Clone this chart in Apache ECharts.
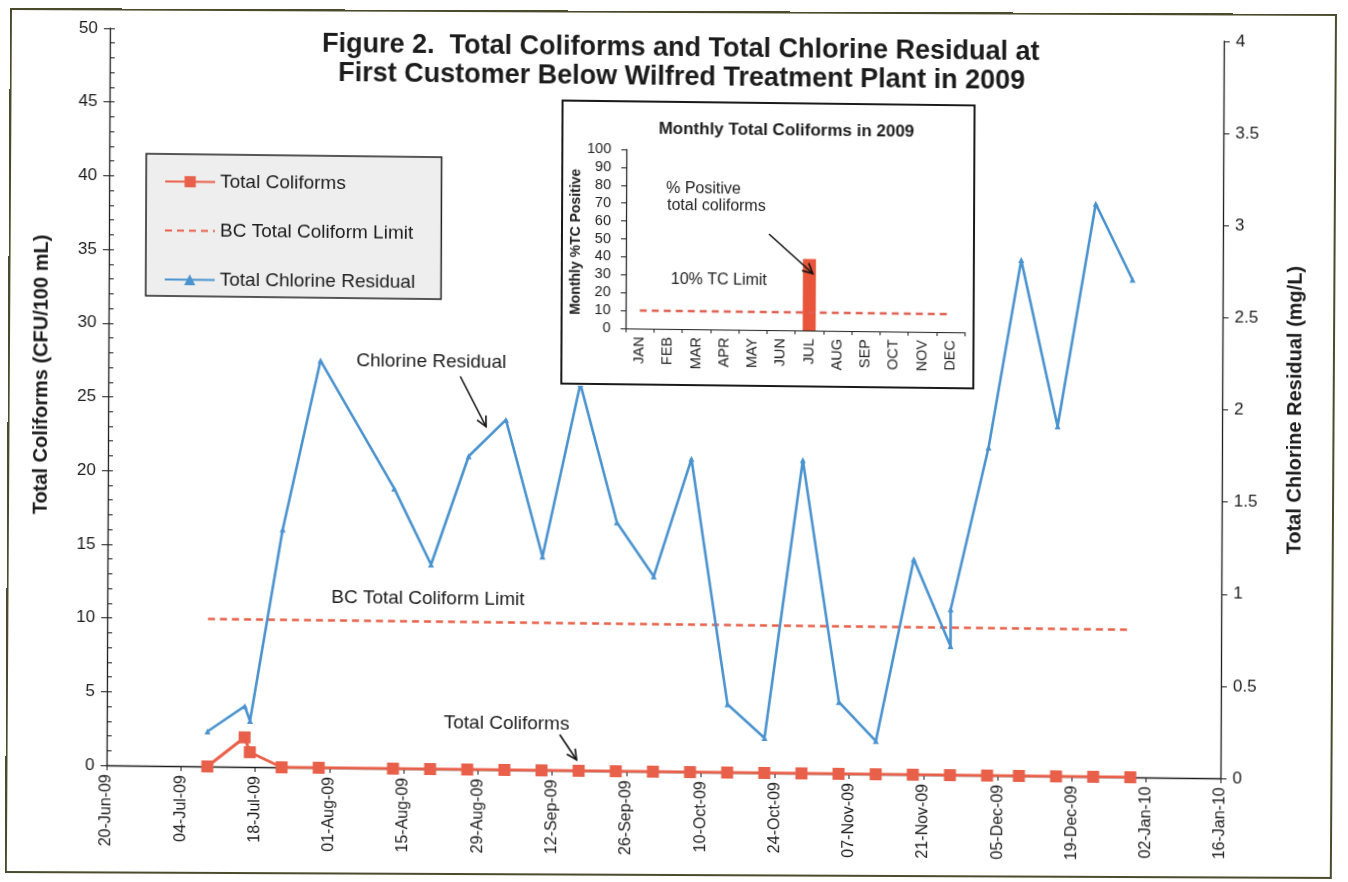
<!DOCTYPE html>
<html>
<head>
<meta charset="utf-8">
<title>Total Coliforms and Total Chlorine Residual 2009</title>
<script src="https://cdn.jsdelivr.net/npm/echarts@6/dist/echarts.min.js"></script>
<style>
  html, body { margin: 0; padding: 0; background: #ffffff; overflow: hidden; }
  #page {
    position: absolute; left: 0; top: 0; width: 1348px; height: 882px;
    transform-origin: 0 0;
    transform: matrix(1, 0.0117, -0.0045, 1, 0, 0);
  }
  #frame {
    position: absolute; left: 10px; top: 8px; width: 1327px; height: 865px;
    border: 2px solid #4a4a2c; box-sizing: border-box; pointer-events: none;
    transform-origin: 0 0;
    transform: matrix(1, 0.0045, -0.006, 1, 0, 0);
  }
  #main { position: absolute; left: 0; top: 0; width: 1348px; height: 882px; }
  #inset {
    position: absolute; left: 562px; top: 93px; width: 414px; height: 285px;
    background: #ffffff; border: 2px solid #1a1a1a; box-sizing: border-box;
  }
</style>
</head>
<body>
<div id="page">
  <div id="main"></div>
  <div id="inset"></div>
</div>
<div id="frame"></div>
<script>
// ---- samples at the first customer ----
const coliformDates = ['2009-07-09','2009-07-16','2009-07-17','2009-07-23','2009-07-30',
  '2009-08-13','2009-08-20','2009-08-27','2009-09-03','2009-09-10','2009-09-17','2009-09-24',
  '2009-10-01','2009-10-08','2009-10-15','2009-10-22','2009-10-29','2009-11-05','2009-11-12',
  '2009-11-19','2009-11-26','2009-12-03','2009-12-09','2009-12-16','2009-12-23','2009-12-30'];
const totalColiforms = [0, 2, 1, 0, 0, 0, 0, 0, 0, 0, 0, 0, 0, 0, 0, 0, 0, 0, 0, 0, 0, 0, 0, 0, 0, 0];

const chlorineDates = ['2009-07-09','2009-07-16','2009-07-17','2009-07-23','2009-07-30',
  '2009-08-13','2009-08-20','2009-08-27','2009-09-03','2009-09-10','2009-09-17','2009-09-24',
  '2009-10-01','2009-10-08','2009-10-15','2009-10-22','2009-10-29','2009-11-05','2009-11-12',
  '2009-11-19','2009-11-26','2009-11-26','2009-12-03','2009-12-09','2009-12-16','2009-12-23','2009-12-30'];
const chlorineResidual = [0.19, 0.33, 0.25, 1.29, 2.21, 1.52, 1.11, 1.70, 1.90, 1.16, 2.10, 1.35,
  1.06, 1.70, 0.37, 0.19, 1.70, 0.39, 0.18, 1.17, 0.70, 0.90, 1.78, 2.80, 1.90, 3.11, 2.70];

// BC limit drawn across the sampling period
const limitDates = ['2009-07-09', '2009-12-30'];
const bcColiformLimit = [10, 10];

// x axis: two-week ticks starting 20-Jun-09
const axisStart = '2009-06-20';
const dateTicks = ['20-Jun-09','04-Jul-09','18-Jul-09','01-Aug-09','15-Aug-09','29-Aug-09',
  '12-Sep-09','26-Sep-09','10-Oct-09','24-Oct-09','07-Nov-09','21-Nov-09','05-Dec-09',
  '19-Dec-09','02-Jan-10','16-Jan-10'];
const tickDays = 14;

// ---- monthly summary ----
const months = ['JAN','FEB','MAR','APR','MAY','JUN','JUL','AUG','SEP','OCT','NOV','DEC'];
const monthlyPctPositive = [0, 0, 0, 0, 0, 0, 40, 0, 0, 0, 0, 0];
const tcLimitPct = [10, 10, 10, 10, 10, 10, 10, 10, 10, 10, 10, 10];

const FONT = '"Liberation Sans", Arial, sans-serif';
const RED = '#e9604a';
const BLUE = '#4b93cf';
const INK = '#1c1c1c';

function dayOf(s) {
  const p = s.split('-').map(Number), q = axisStart.split('-').map(Number);
  return (Date.UTC(p[0], p[1] - 1, p[2]) - Date.UTC(q[0], q[1] - 1, q[2])) / 86400000;
}
function pairs(dates, vals) { return dates.map((d, i) => [dayOf(d), vals[i]]); }

function arrow(x1, y1, x2, y2) {
  const a = Math.atan2(y2 - y1, x2 - x1), L = 10, W = 5;
  const bx = x2 - L * Math.cos(a), by = y2 - L * Math.sin(a);
  const px = -Math.sin(a) * W, py = Math.cos(a) * W;
  return [
    { type: 'line', z: 20, shape: { x1: x1, y1: y1, x2: x2, y2: y2 }, style: { stroke: '#111', lineWidth: 1.6 } },
    { type: 'polyline', z: 20, shape: { points: [[bx + px, by + py], [x2, y2], [bx - px, by - py]] },
      style: { stroke: '#111', lineWidth: 1.6, fill: null } }
  ];
}
function label(text, x, y, size, opts) {
  opts = opts || {};
  const el = { type: 'text', z: 20, x: x, y: y,
    style: { text: text, font: (opts.bold ? 'bold ' : '') + size + 'px ' + FONT,
      fill: INK, textAlign: opts.align || 'left', textVerticalAlign: 'middle' } };
  if (opts.rotation) el.rotation = opts.rotation;
  return el;
}

// ---------------- main chart ----------------
const main = echarts.init(document.getElementById('main'), null, { renderer: 'canvas' });
main.setOption({
  animation: false,
  backgroundColor: 'transparent',
  textStyle: { fontFamily: FONT, color: INK },
  grid: { left: 110, right: 124, top: 27, bottom: 118 },
  legend: {
    orient: 'vertical', left: 147, top: 152,
    padding: [18, 26, 7, 18], itemGap: 30, itemWidth: 50, itemHeight: 14,
    backgroundColor: '#eeeeee', borderColor: '#222', borderWidth: 1.5,
    textStyle: { fontSize: 19, color: INK, fontFamily: FONT },
    data: [
      { name: 'Total Coliforms' },
      { name: 'BC Total Coliform Limit', itemStyle: { opacity: 0 } },
      { name: 'Total Chlorine Residual' }
    ]
  },
  xAxis: {
    type: 'value', min: 0, max: (dateTicks.length - 1) * tickDays, interval: tickDays,
    axisLine: { show: true, onZero: false, lineStyle: { color: INK, width: 1.3 } },
    axisTick: { show: true, length: 5, lineStyle: { color: INK } },
    splitLine: { show: false },
    axisLabel: { rotate: 90, fontSize: 16, color: INK, margin: 9,
      formatter: v => dateTicks[Math.round(v / tickDays)] || '' }
  },
  yAxis: [
    { type: 'value', min: 0, max: 50, interval: 5, position: 'left',
      axisLine: { show: true, lineStyle: { color: INK, width: 1.3 } },
      axisTick: { show: true, length: 6, lineStyle: { color: INK } },
      splitLine: { show: false },
      axisLabel: { fontSize: 17, color: INK, margin: 12 } },
    { type: 'value', min: 0, max: 4, interval: 0.5, position: 'right',
      axisLine: { show: true, lineStyle: { color: INK, width: 1.3 } },
      axisTick: { show: true, length: 6, lineStyle: { color: INK } },
      splitLine: { show: false },
      axisLabel: { fontSize: 17, color: INK, margin: 12 } },
    // inner tick marks of the coliform scale
    { type: 'value', min: 0, max: 50, interval: 5, position: 'left',
      axisLine: { show: false },
      axisTick: { show: true, inside: true, length: 5, lineStyle: { color: INK } },
      minorTick: { show: true, splitNumber: 5, length: 5, lineStyle: { color: INK } },
      splitLine: { show: false }, axisLabel: { show: false } }
  ],
  series: [
    { name: 'Total Coliforms', type: 'line', yAxisIndex: 0, z: 4,
      data: pairs(coliformDates, totalColiforms),
      symbol: 'rect', symbolSize: 12,
      lineStyle: { color: RED, width: 3 }, itemStyle: { color: RED } },
    { name: 'BC Total Coliform Limit', type: 'line', yAxisIndex: 0, z: 3,
      data: pairs(limitDates, bcColiformLimit), symbol: 'none',
      lineStyle: { color: RED, width: 2.5, type: [7, 5] }, itemStyle: { color: RED } },
    { name: 'Total Chlorine Residual', type: 'line', yAxisIndex: 1, z: 3,
      data: pairs(chlorineDates, chlorineResidual),
      symbol: 'triangle', symbolSize: 6,
      lineStyle: { color: BLUE, width: 2.6 }, itemStyle: { color: BLUE } }
  ],
  graphic: [
    label('Figure 2.  Total Coliforms and Total Chlorine Residual at', 681, 41, 27, { bold: true, align: 'center' }),
    label('First Customer Below Wilfred Treatment Plant in 2009', 682, 70, 27, { bold: true, align: 'center' }),
    label('Total Coliforms (CFU/100 mL)', 43, 374, 20, { bold: true, align: 'center', rotation: Math.PI / 2 }),
    label('Total Chlorine Residual (mg/L)', 1297, 395, 20, { bold: true, align: 'center', rotation: Math.PI / 2 }),
    label('Chlorine Residual', 358, 357, 19),
    label('BC Total Coliform Limit', 334, 594, 19),
    label('Total Coliforms', 447, 718, 19)
  ].concat(arrow(462, 371, 488, 421), arrow(563, 728, 580, 753))
});

// ---------------- monthly inset ----------------
const inset = echarts.init(document.getElementById('inset'), null, { renderer: 'canvas' });
inset.setOption({
  animation: false,
  textStyle: { fontFamily: FONT, color: INK },
  grid: { left: 63, right: 8, top: 47, bottom: 55 },
  xAxis: {
    type: 'category', data: months,
    axisLine: { show: true, lineStyle: { color: INK, width: 1.2 } },
    axisTick: { show: true, length: 4, lineStyle: { color: INK } },
    axisLabel: { rotate: 90, fontSize: 14.5, color: INK, margin: 8 }
  },
  yAxis: {
    type: 'value', min: 0, max: 100, interval: 10,
    axisLine: { show: true, lineStyle: { color: INK, width: 1.2 } },
    axisTick: { show: true, length: 5, lineStyle: { color: INK } },
    splitLine: { show: false },
    axisLabel: { fontSize: 14.5, color: INK, margin: 15 }
  },
  series: [
    { name: '% Positive total coliforms', type: 'bar', data: monthlyPctPositive,
      barWidth: 13, itemStyle: { color: '#e8553a' } },
    { name: '10% TC Limit', type: 'line', data: tcLimitPct, symbol: 'none', z: 3,
      lineStyle: { color: '#e06052', width: 2.5, type: [7, 5] } }
  ],
  graphic: [
    label('Monthly Total Coliforms in 2009', 223, 26, 17, { bold: true, align: 'center' }),
    label('Monthly %TC Positive', 13, 140, 14, { bold: true, align: 'center', rotation: Math.PI / 2 }),
    label('% Positive', 103, 86, 16),
    label('total coliforms', 104, 103, 16),
    label('10% TC Limit', 108, 177, 16)
  ].concat(arrow(206, 130, 250, 169))
});
</script>
</body>
</html>
